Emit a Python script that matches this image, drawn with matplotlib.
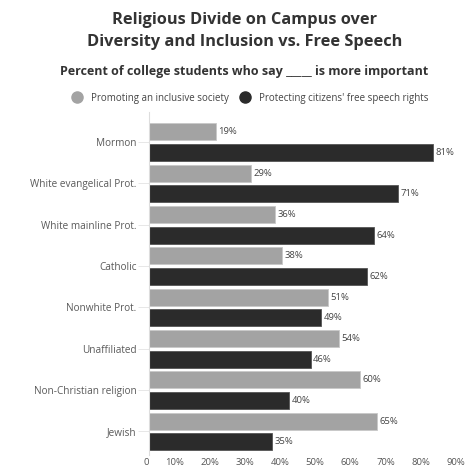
import numpy as np
import matplotlib
matplotlib.use("Agg")
import matplotlib.pyplot as plt
import matplotlib.transforms as mtransforms
from matplotlib.lines import Line2D

plt.rcParams['font.family'] = ['Open Sans', 'DejaVu Sans']

# data
groups = ["Mormon", "White evangelical Prot.", "White mainline Prot.", "Catholic",
          "Nonwhite Prot.", "Unaffiliated", "Non-Christian religion", "Jewish"]
inclusive = [19, 29, 36, 38, 51, 54, 60, 65]
free_speech = [81, 71, 64, 62, 49, 46, 40, 35]
x_ticks = [0, 10, 20, 30, 40, 50, 60, 70, 80, 90]
x_tick_labels = ["0", "10%", "20%", "30%", "40%", "50%", "60%", "70%", "80%", "90%"]

light = '#a3a3a3'
dark = '#2b2b2b'

fig = plt.figure(figsize=(4.65, 4.72), dpi=100)
ax = fig.add_axes([149 / 465, 17 / 472, 316 / 465, (472 - 112 - 17) / 472])

y = np.arange(len(groups))
h = 0.41
ax.barh(y - 0.25, inclusive, height=h, color=light, edgecolor='#c8c8c8', linewidth=0.6)
ax.barh(y + 0.25, free_speech, height=h, color=dark, edgecolor='#555555', linewidth=0.6)

for i in range(len(groups)):
    ax.text(inclusive[i] + 0.7, y[i] - 0.25, f"{inclusive[i]}%", va='center', ha='left',
            fontsize=6.8, color='#444444')
    ax.text(free_speech[i] + 0.7, y[i] + 0.25, f"{free_speech[i]}%", va='center', ha='left',
            fontsize=6.8, color='#444444')

ax.set_xlim(0, 90)
ax.set_ylim(7.57, -0.73)
ax.set_yticks(y)
ax.set_yticklabels(groups, fontsize=7.2, color='#5a5a5a')
ax.set_xticks(x_ticks)
ax.set_xticklabels(x_tick_labels, fontsize=6.8, color='#555555', ha='right')
# tick labels sit a little left of their ticks in the original
offset = mtransforms.ScaledTranslation(-4 / 100, 0, fig.dpi_scale_trans)
for lbl in ax.get_xticklabels():
    lbl.set_transform(lbl.get_transform() + offset)

ax.tick_params(axis='x', length=0, pad=2)
ax.tick_params(axis='y', length=8, width=0.5, color='#dddddd', pad=1)
for s in ['top', 'right', 'bottom']:
    ax.spines[s].set_visible(False)
ax.spines['left'].set_color('#dddddd')
ax.spines['left'].set_linewidth(0.8)

fig.text(245 / 465, 1 - 31 / 472, "Religious Divide on Campus over\nDiversity and Inclusion vs. Free Speech",
         ha='center', va='center', fontsize=11.8, fontweight='bold', color='#333333', linespacing=1.45)
fig.text(244 / 465, 1 - 72 / 472, "Percent of college students who say _____ is more important",
         ha='center', va='center', fontsize=9, fontweight='bold', color='#333333')

handles = [Line2D([], [], marker='o', linestyle='none', markersize=8, color=light),
           Line2D([], [], marker='o', linestyle='none', markersize=8, color=dark)]
fig.legend(handles, ["Promoting an inclusive society", "Protecting citizens' free speech rights"],
           loc='center', bbox_to_anchor=(248 / 465, 1 - 98 / 472), ncol=2, frameon=False,
           fontsize=7, handletextpad=0.5, columnspacing=0.6, labelcolor='#444444')

fig.savefig("out.png", dpi=100)
